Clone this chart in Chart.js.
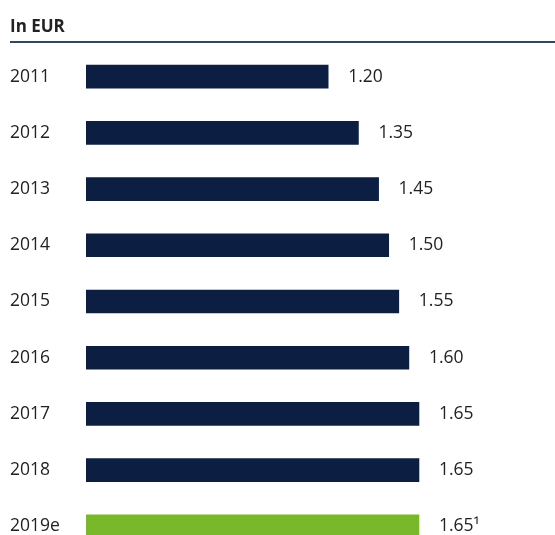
<!DOCTYPE html>
<html>
<head>
<meta charset="utf-8">
<script src="https://cdn.jsdelivr.net/npm/chart.js@4"></script>
<style>
  html, body { margin: 0; padding: 0; background: #fff; overflow: hidden; }
  #wrap { position: relative; width: 555px; height: 565px; }
</style>
</head>
<body>
<div id="wrap"><canvas id="chart"></canvas></div>
<script>
const years = ['2011', '2012', '2013', '2014', '2015', '2016', '2017', '2018', '2019e'];
const dividends = [1.20, 1.35, 1.45, 1.50, 1.55, 1.60, 1.65, 1.65, 1.65];
const valueLabels = ['1.20', '1.35', '1.45', '1.50', '1.55', '1.60', '1.65', '1.65', '1.65¹'];
const unitLabel = 'In EUR';

const NAVY = '#0c1f42';
const GREEN = '#78b82a';
const FONT = '"Open Sans", "Noto Sans", sans-serif';

// header text + rule above the bars
const headerPlugin = {
    id: 'header',
    afterDraw(chart) {
        const ctx = chart.ctx;
        ctx.save();
        ctx.fillStyle = '#222';
        ctx.font = `bold 17px ${FONT}`;
        ctx.textBaseline = 'alphabetic';
        ctx.textAlign = 'left';
        ctx.fillText(unitLabel, 10, 32);
        ctx.strokeStyle = '#33465f';
        ctx.lineWidth = 2;
        ctx.beginPath();
        ctx.moveTo(10, 42);
        ctx.lineTo(chart.width, 42);
        ctx.stroke();
        ctx.restore();
    }
};

// value labels right of each bar
const valuePlugin = {
    id: 'values',
    afterDatasetsDraw(chart) {
        const ctx = chart.ctx;
        const meta = chart.getDatasetMeta(0);
        ctx.save();
        ctx.fillStyle = '#222';
        ctx.font = `17.5px ${FONT}`;
        ctx.textAlign = 'left';
        ctx.textBaseline = 'middle';
        meta.data.forEach((bar, i) => {
            ctx.fillText(valueLabels[i], bar.x + 20, bar.y);
        });
        ctx.restore();
    }
};

const ctx = document.getElementById('chart').getContext('2d');
new Chart(ctx, {
    type: 'bar',
    data: {
        labels: years,
        datasets: [{
            data: dividends,
            backgroundColor: years.map(y => y.endsWith('e') ? GREEN : NAVY),
            barThickness: 23,
            borderWidth: 0
        }]
    },
    options: {
        indexAxis: 'y',
        responsive: true,
        maintainAspectRatio: false,
        animation: false,
        layout: { padding: { top: 48.5, left: 10, right: 0, bottom: 0 } },
        plugins: {
            legend: { display: false },
            tooltip: { enabled: false }
        },
        scales: {
            x: {
                display: false,
                min: 0,
                max: 469 / 201.8
            },
            y: {
                grid: { display: false },
                border: { display: false },
                ticks: {
                    crossAlign: 'far',
                    color: '#222',
                    font: { family: FONT, size: 17.5 },
                    padding: 0
                },
                afterFit(scale) { scale.width = 76; }
            }
        }
    },
    plugins: [headerPlugin, valuePlugin]
});
</script>
</body>
</html>
